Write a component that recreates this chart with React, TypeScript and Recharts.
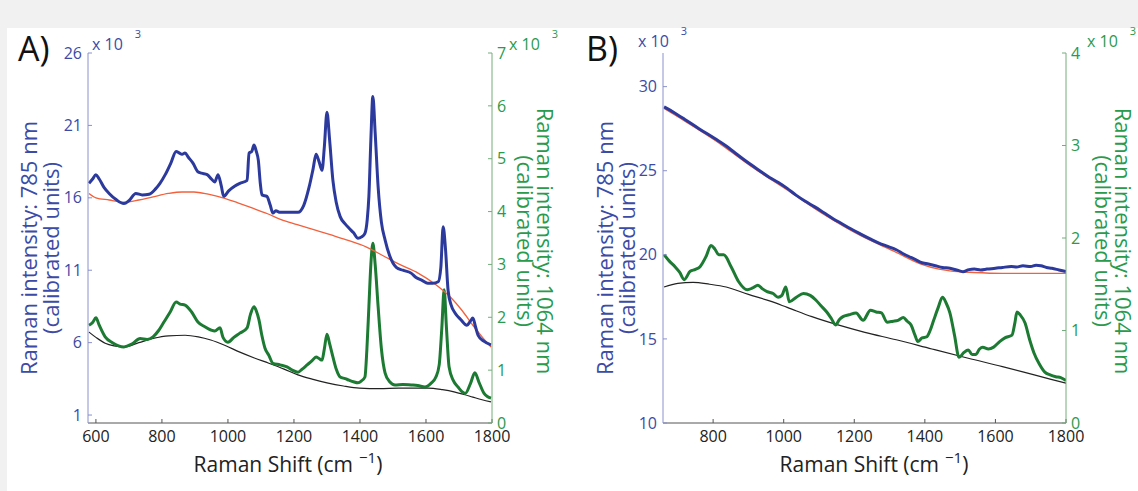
import React from 'react';
import { ComposedChart, Line, XAxis, YAxis } from 'recharts';

type Pt = [number, number];

// ---------- Panel A data (x: Raman shift cm^-1, y: intensity x10^3) ----------
const aBlue785: Pt[] = [
  [579, 17.0], [590, 17.3], [600, 17.6], [610, 17.3], [625, 16.7], [640, 16.3], [660, 15.9], [685, 15.6],
  [700, 15.8], [721, 16.3], [740, 16.2], [761, 16.25], [780, 16.6], [794, 17.0], [810, 17.6], [827, 18.4],
  [843, 19.2], [852, 19.1], [861, 19.0], [870, 19.1], [880, 18.8], [894, 18.4], [909, 17.8], [920, 17.7],
  [937, 17.6], [950, 17.3], [960, 17.1], [970, 17.6], [980, 16.8], [987, 16.1], [1003, 16.5], [1020, 16.8],
  [1036, 17.0], [1058, 17.2], [1064, 19.1], [1072, 19.2], [1079, 19.65], [1086, 19.2], [1092, 18.6],
  [1098, 17.0], [1103, 16.2], [1118, 16.1], [1128, 15.5], [1136, 14.95], [1145, 15.1], [1158, 15.0],
  [1180, 15.0], [1212, 15.0], [1230, 15.5], [1246, 16.75], [1258, 18.0], [1267, 19.0], [1276, 18.5],
  [1285, 17.9], [1292, 19.5], [1300, 21.9], [1308, 20.0], [1318, 17.2], [1328, 15.7], [1340, 14.7],
  [1355, 14.2], [1367, 13.9], [1380, 13.6], [1394, 13.2], [1405, 13.3], [1415, 13.55], [1422, 14.5],
  [1427, 16.1], [1433, 20.0], [1439, 23.0], [1446, 20.5], [1455, 16.75], [1465, 14.3], [1476, 13.1],
  [1490, 12.0], [1510, 11.2], [1530, 11.0], [1555, 10.8], [1570, 10.5], [1588, 10.3], [1605, 10.1],
  [1621, 10.1], [1637, 10.2], [1645, 11.2], [1652, 14.0], [1659, 12.5], [1667, 9.6], [1676, 8.6],
  [1688, 8.05], [1705, 7.6], [1724, 7.2], [1735, 7.5], [1742, 7.7], [1750, 7.1], [1758, 6.5],
  [1775, 6.1], [1797, 5.85],
];
const aRed785: Pt[] = [
  [579, 16.3], [600, 16.0], [640, 15.85], [685, 15.7], [730, 15.85], [770, 16.05], [820, 16.3],
  [861, 16.4], [897, 16.4], [940, 16.25], [985, 16.0], [1030, 15.65], [1073, 15.3], [1120, 14.9],
  [1161, 14.5], [1210, 14.15], [1260, 13.8], [1310, 13.45], [1359, 13.1], [1420, 12.6], [1470, 12.0],
  [1520, 11.4], [1576, 10.8], [1630, 10.0], [1676, 9.1], [1710, 8.2], [1742, 7.2], [1770, 6.4], [1797, 5.7],
];
const aGreen1064: Pt[] = [
  [579, 1.85], [590, 1.9], [600, 1.99], [610, 1.85], [628, 1.63], [650, 1.52], [685, 1.44], [710, 1.5],
  [734, 1.6], [755, 1.58], [773, 1.63], [790, 1.75], [806, 1.91], [825, 2.1], [843, 2.29], [855, 2.25],
  [870, 2.23], [890, 2.1], [909, 1.91], [930, 1.82], [948, 1.76], [960, 1.74], [976, 1.8], [985, 1.62],
  [1000, 1.53], [1018, 1.62], [1036, 1.7], [1058, 1.8], [1068, 2.05], [1079, 2.2], [1086, 2.12],
  [1094, 1.95], [1103, 1.65], [1112, 1.42], [1124, 1.28], [1136, 1.13], [1158, 1.1], [1179, 1.06],
  [1195, 1.0], [1212, 0.96], [1225, 1.02], [1240, 1.1], [1255, 1.18], [1267, 1.25], [1276, 1.22],
  [1285, 1.19], [1292, 1.4], [1300, 1.68], [1308, 1.5], [1318, 1.25], [1328, 1.02], [1340, 0.87],
  [1355, 0.84], [1367, 0.81], [1380, 0.78], [1394, 0.76], [1405, 0.8], [1415, 0.87], [1421, 1.4],
  [1427, 2.2], [1433, 3.0], [1439, 3.4], [1446, 3.0], [1455, 2.2], [1465, 1.4], [1476, 0.95],
  [1490, 0.78], [1506, 0.72], [1530, 0.73], [1555, 0.72], [1575, 0.71], [1597, 0.68], [1615, 0.75],
  [1630, 0.87], [1640, 1.1], [1648, 1.8], [1655, 2.52], [1662, 1.8], [1670, 1.06], [1683, 0.8],
  [1697, 0.68], [1708, 0.6], [1719, 0.56], [1735, 0.75], [1748, 0.95], [1760, 0.78], [1776, 0.56],
  [1786, 0.5], [1797, 0.47],
];
const aBlack1064: Pt[] = [
  [579, 1.72], [600, 1.62], [628, 1.51], [655, 1.46], [685, 1.44], [730, 1.52], [773, 1.6], [820, 1.65],
  [870, 1.66], [910, 1.63], [948, 1.57], [990, 1.47], [1036, 1.34], [1080, 1.23], [1124, 1.13],
  [1170, 1.02], [1212, 0.91], [1255, 0.83], [1300, 0.76], [1350, 0.7], [1398, 0.66], [1460, 0.65],
  [1518, 0.66], [1560, 0.66], [1606, 0.66], [1650, 0.63], [1685, 0.59], [1715, 0.54], [1742, 0.49],
  [1770, 0.44], [1797, 0.4],
];

// ---------- Panel B data ----------
const bBlue785: Pt[] = [
  [661, 28.8], [690, 28.45], [720, 28.05], [760, 27.5], [806, 26.9], [835, 26.5], [860, 26.1],
  [885, 25.7], [908, 25.35], [935, 24.95], [960, 24.6], [985, 24.3], [1010, 23.95], [1035, 23.55],
  [1060, 23.2], [1088, 22.85], [1114, 22.5], [1140, 22.15], [1165, 21.85], [1190, 21.55], [1217, 21.25],
  [1245, 20.95], [1270, 20.7], [1295, 20.5], [1319, 20.3], [1340, 20.05], [1360, 19.85], [1375, 19.7],
  [1389, 19.55], [1410, 19.45], [1430, 19.35], [1450, 19.25], [1471, 19.2], [1490, 19.1], [1508, 19.0],
  [1525, 19.12], [1540, 19.15], [1558, 19.1], [1576, 19.15], [1600, 19.2], [1620, 19.25], [1645, 19.3],
  [1660, 19.28], [1678, 19.35], [1700, 19.3], [1715, 19.38], [1729, 19.35], [1745, 19.25], [1760, 19.2],
  [1780, 19.1], [1800, 19.0],
];
const bRed785: Pt[] = [
  [661, 28.7], [720, 27.95], [806, 26.8], [908, 25.25], [1010, 23.85], [1114, 22.4], [1217, 21.15],
  [1319, 20.15], [1389, 19.45], [1440, 19.15], [1471, 19.05], [1540, 18.95], [1620, 18.9],
  [1700, 18.9], [1800, 18.9],
];
const bGreen1064: Pt[] = [
  [661, 1.82], [676, 1.75], [692, 1.69], [705, 1.63], [718, 1.55], [735, 1.64], [750, 1.66],
  [763, 1.69], [780, 1.8], [794, 1.92], [805, 1.88], [816, 1.82], [830, 1.82], [851, 1.69],
  [872, 1.53], [897, 1.44], [912, 1.46], [927, 1.49], [940, 1.45], [953, 1.42], [970, 1.4], [984, 1.36],
  [995, 1.38], [1006, 1.47], [1016, 1.31], [1036, 1.36], [1056, 1.4], [1075, 1.38], [1091, 1.33],
  [1105, 1.27], [1122, 1.2], [1135, 1.13], [1147, 1.06], [1158, 1.12], [1168, 1.15], [1185, 1.17],
  [1205, 1.19], [1225, 1.11], [1246, 1.22], [1262, 1.2], [1277, 1.19], [1293, 1.09], [1310, 1.1],
  [1324, 1.11], [1339, 1.14], [1350, 1.1], [1361, 1.06], [1372, 0.95], [1380, 0.88], [1392, 0.92],
  [1405, 0.93], [1415, 1.0], [1425, 1.11], [1438, 1.25], [1450, 1.36], [1460, 1.3], [1471, 1.19],
  [1484, 0.95], [1497, 0.71], [1510, 0.76], [1523, 0.79], [1534, 0.74], [1544, 0.74], [1555, 0.8],
  [1564, 0.82], [1580, 0.8], [1595, 0.82], [1612, 0.88], [1627, 0.92], [1647, 0.95], [1655, 1.08],
  [1661, 1.2], [1670, 1.17], [1684, 1.08], [1697, 0.9], [1709, 0.76], [1724, 0.64], [1740, 0.55],
  [1755, 0.52], [1771, 0.5], [1785, 0.49], [1800, 0.46],
];
const bBlack1064: Pt[] = [
  [661, 1.47], [700, 1.51], [743, 1.52], [790, 1.5], [837, 1.47], [900, 1.39], [960, 1.32],
  [1010, 1.25], [1080, 1.15], [1154, 1.06], [1230, 0.98], [1319, 0.9], [1420, 0.8], [1523, 0.7],
  [1620, 0.61], [1710, 0.52], [1800, 0.43],
];

// ---------- Axes ----------
const aXTicks = [600, 800, 1000, 1200, 1400, 1600, 1800];
const aLeftTicks = [1, 6, 11, 16, 21, 26];
const aRightTicks = [0, 1, 2, 3, 4, 5, 6, 7];
const bXTicks = [800, 1000, 1200, 1400, 1600, 1800];
const bLeftTicks = [10, 15, 20, 25, 30];
const bRightTicks = [0, 1, 2, 3, 4];

const FONT = '"Open Sans", "Noto Sans", sans-serif';
const BLUE_LINE = '#2b3a9c';
const BLUE_TEXT = '#3b4ba6';
const BLUE_AXIS = '#8a90cc';
const RED_LINE = '#f2603c';
const GREEN_LINE = '#1c7a32';
const GREEN_TEXT = '#2a9a4c';
const GREEN_AXIS = '#74ad7c';
const BLACK_LINE = '#222222';
const X_AXIS = '#555555';

const rows = (pts: Pt[]) => pts.map(([x, y]) => ({ x, y }));

const YTitle = (p: { tx: number; ty: number; rot: number; lines: string[]; color: string; gap: number }) => (
  <text
    transform={`translate(${p.tx},${p.ty}) rotate(${p.rot})`}
    textAnchor="middle"
    fill={p.color}
    fontSize={22}
    fontFamily={FONT}
  >
    {p.lines.map((l, i) => (
      <tspan key={i} x={0} dy={i === 0 ? 0 : p.gap}>
        {l}
      </tspan>
    ))}
  </text>
);

const XTitle = (p: { tx: number; ty: number }) => (
  <text transform={`translate(${p.tx},${p.ty})`} textAnchor="middle" fill="#222" fontSize={21} fontFamily={FONT}>
    Raman Shift (cm
    <tspan dx={6} dy={-9} fontSize={15}>
      −1
    </tspan>
    <tspan dy={9}>)</tspan>
  </text>
);

const tickStyle = (c: string) => ({ fill: c, fontSize: 16, fontFamily: FONT });

interface PanelProps {
  width: number;
  margin: { top: number; right: number; bottom: number; left: number };
  leftWidth: number;
  rightWidth: number;
  xDomain: [number, number];
  xTicks: number[];
  leftDomain: [number, number];
  leftTicks: number[];
  rightDomain: [number, number];
  rightTicks: number[];
  blue: Pt[];
  red: Pt[];
  green: Pt[];
  black: Pt[];
  leftTitle: React.ReactElement;
  rightTitle: React.ReactElement;
  xTitle: React.ReactElement;
}

const Panel = (p: PanelProps) => (
  <ComposedChart width={p.width} height={491} margin={p.margin}>
    <XAxis
      dataKey="x"
      type="number"
      domain={p.xDomain}
      ticks={p.xTicks}
      interval={0}
      allowDataOverflow
      height={40}
      tickSize={-4}
      tickMargin={12}
      axisLine={{ stroke: X_AXIS, strokeWidth: 1 }}
      tickLine={{ stroke: X_AXIS }}
      tick={tickStyle('#222')}
      label={p.xTitle}
    />
    <YAxis
      yAxisId="left"
      orientation="left"
      type="number"
      domain={p.leftDomain}
      ticks={p.leftTicks}
      interval={0}
      allowDataOverflow
      width={p.leftWidth}
      tickSize={-4}
      tickMargin={10}
      axisLine={{ stroke: BLUE_AXIS, strokeWidth: 1 }}
      tickLine={{ stroke: BLUE_AXIS }}
      tick={tickStyle(BLUE_TEXT)}
      label={p.leftTitle}
    />
    <YAxis
      yAxisId="right"
      orientation="right"
      type="number"
      domain={p.rightDomain}
      ticks={p.rightTicks}
      interval={0}
      allowDataOverflow
      width={p.rightWidth}
      tickSize={-4}
      tickMargin={9}
      axisLine={{ stroke: GREEN_AXIS, strokeWidth: 1 }}
      tickLine={{ stroke: GREEN_AXIS }}
      tick={tickStyle(GREEN_TEXT)}
      label={p.rightTitle}
    />
    <Line data={rows(p.black)} dataKey="y" yAxisId="right" type="monotone" stroke={BLACK_LINE} strokeWidth={1.2} dot={false} isAnimationActive={false} />
    <Line data={rows(p.green)} dataKey="y" yAxisId="right" type="monotone" stroke={GREEN_LINE} strokeWidth={3} dot={false} isAnimationActive={false} />
    <Line data={rows(p.red)} dataKey="y" yAxisId="left" type="monotone" stroke={RED_LINE} strokeWidth={1.3} dot={false} isAnimationActive={false} />
    <Line data={rows(p.blue)} dataKey="y" yAxisId="left" type="monotone" stroke={BLUE_LINE} strokeWidth={3} dot={false} isAnimationActive={false} />
  </ComposedChart>
);

const Mult = (p: { x: number; y: number; color: string }) => (
  <text x={p.x} y={p.y} fill={p.color} fontSize={16} fontFamily={FONT}>
    x 10
    <tspan dx={12} dy={-12} fontSize={11}>
      3
    </tspan>
  </text>
);

export default function App() {
  return (
    <div style={{ position: 'fixed', left: 0, top: 0, width: 1138, height: 491, background: '#f1f1f1', overflow: 'hidden' }}>
      <div style={{ position: 'absolute', left: 7, top: 28, right: 0, bottom: 0, background: '#ffffff' }} />
      <div style={{ position: 'absolute', left: 0, top: 0 }}>
        <Panel
          width={570}
          margin={{ top: 53, right: 18, bottom: 28, left: 0 }}
          leftWidth={88}
          rightWidth={60}
          xDomain={[576, 1800]}
          xTicks={aXTicks}
          leftDomain={[0.45, 26]}
          leftTicks={aLeftTicks}
          rightDomain={[0, 7]}
          rightTicks={aRightTicks}
          blue={aBlue785}
          red={aRed785}
          green={aGreen1064}
          black={aBlack1064}
          leftTitle={<YTitle tx={37} ty={248} rot={-90} gap={22} color={BLUE_TEXT} lines={['Raman intensity: 785 nm', '(calibrated units)']} />}
          rightTitle={<YTitle tx={537} ty={241} rot={90} gap={20} color={GREEN_TEXT} lines={['Raman intensity: 1064 nm', '(calibrated units)']} />}
          xTitle={<XTitle tx={288} ty={472} />}
        />
      </div>
      <div style={{ position: 'absolute', left: 570, top: 0 }}>
        <Panel
          width={568}
          margin={{ top: 53, right: 17, bottom: 28, left: 0 }}
          leftWidth={93}
          rightWidth={55}
          xDomain={[658, 1800]}
          xTicks={bXTicks}
          leftDomain={[10, 32]}
          leftTicks={bLeftTicks}
          rightDomain={[0, 4]}
          rightTicks={bRightTicks}
          blue={bBlue785}
          red={bRed785}
          green={bGreen1064}
          black={bBlack1064}
          leftTitle={<YTitle tx={43} ty={248} rot={-90} gap={22} color={BLUE_TEXT} lines={['Raman intensity: 785 nm', '(calibrated units)']} />}
          rightTitle={<YTitle tx={545} ty={241} rot={90} gap={20} color={GREEN_TEXT} lines={['Raman intensity: 1064 nm', '(calibrated units)']} />}
          xTitle={<XTitle tx={304} ty={472} />}
        />
      </div>
      <svg width={1138} height={491} style={{ position: 'absolute', left: 0, top: 0, pointerEvents: 'none' }}>
        <text x={18} y={61} fontSize={34} fill="#111" fontFamily={FONT}>A)</text>
        <text x={586} y={61} fontSize={34} fill="#111" fontFamily={FONT}>B)</text>
        <Mult x={92} y={50} color={BLUE_TEXT} />
        <Mult x={509} y={50} color={GREEN_TEXT} />
        <Mult x={638} y={47} color={BLUE_TEXT} />
        <Mult x={1087} y={47} color={GREEN_TEXT} />
      </svg>
    </div>
  );
}
